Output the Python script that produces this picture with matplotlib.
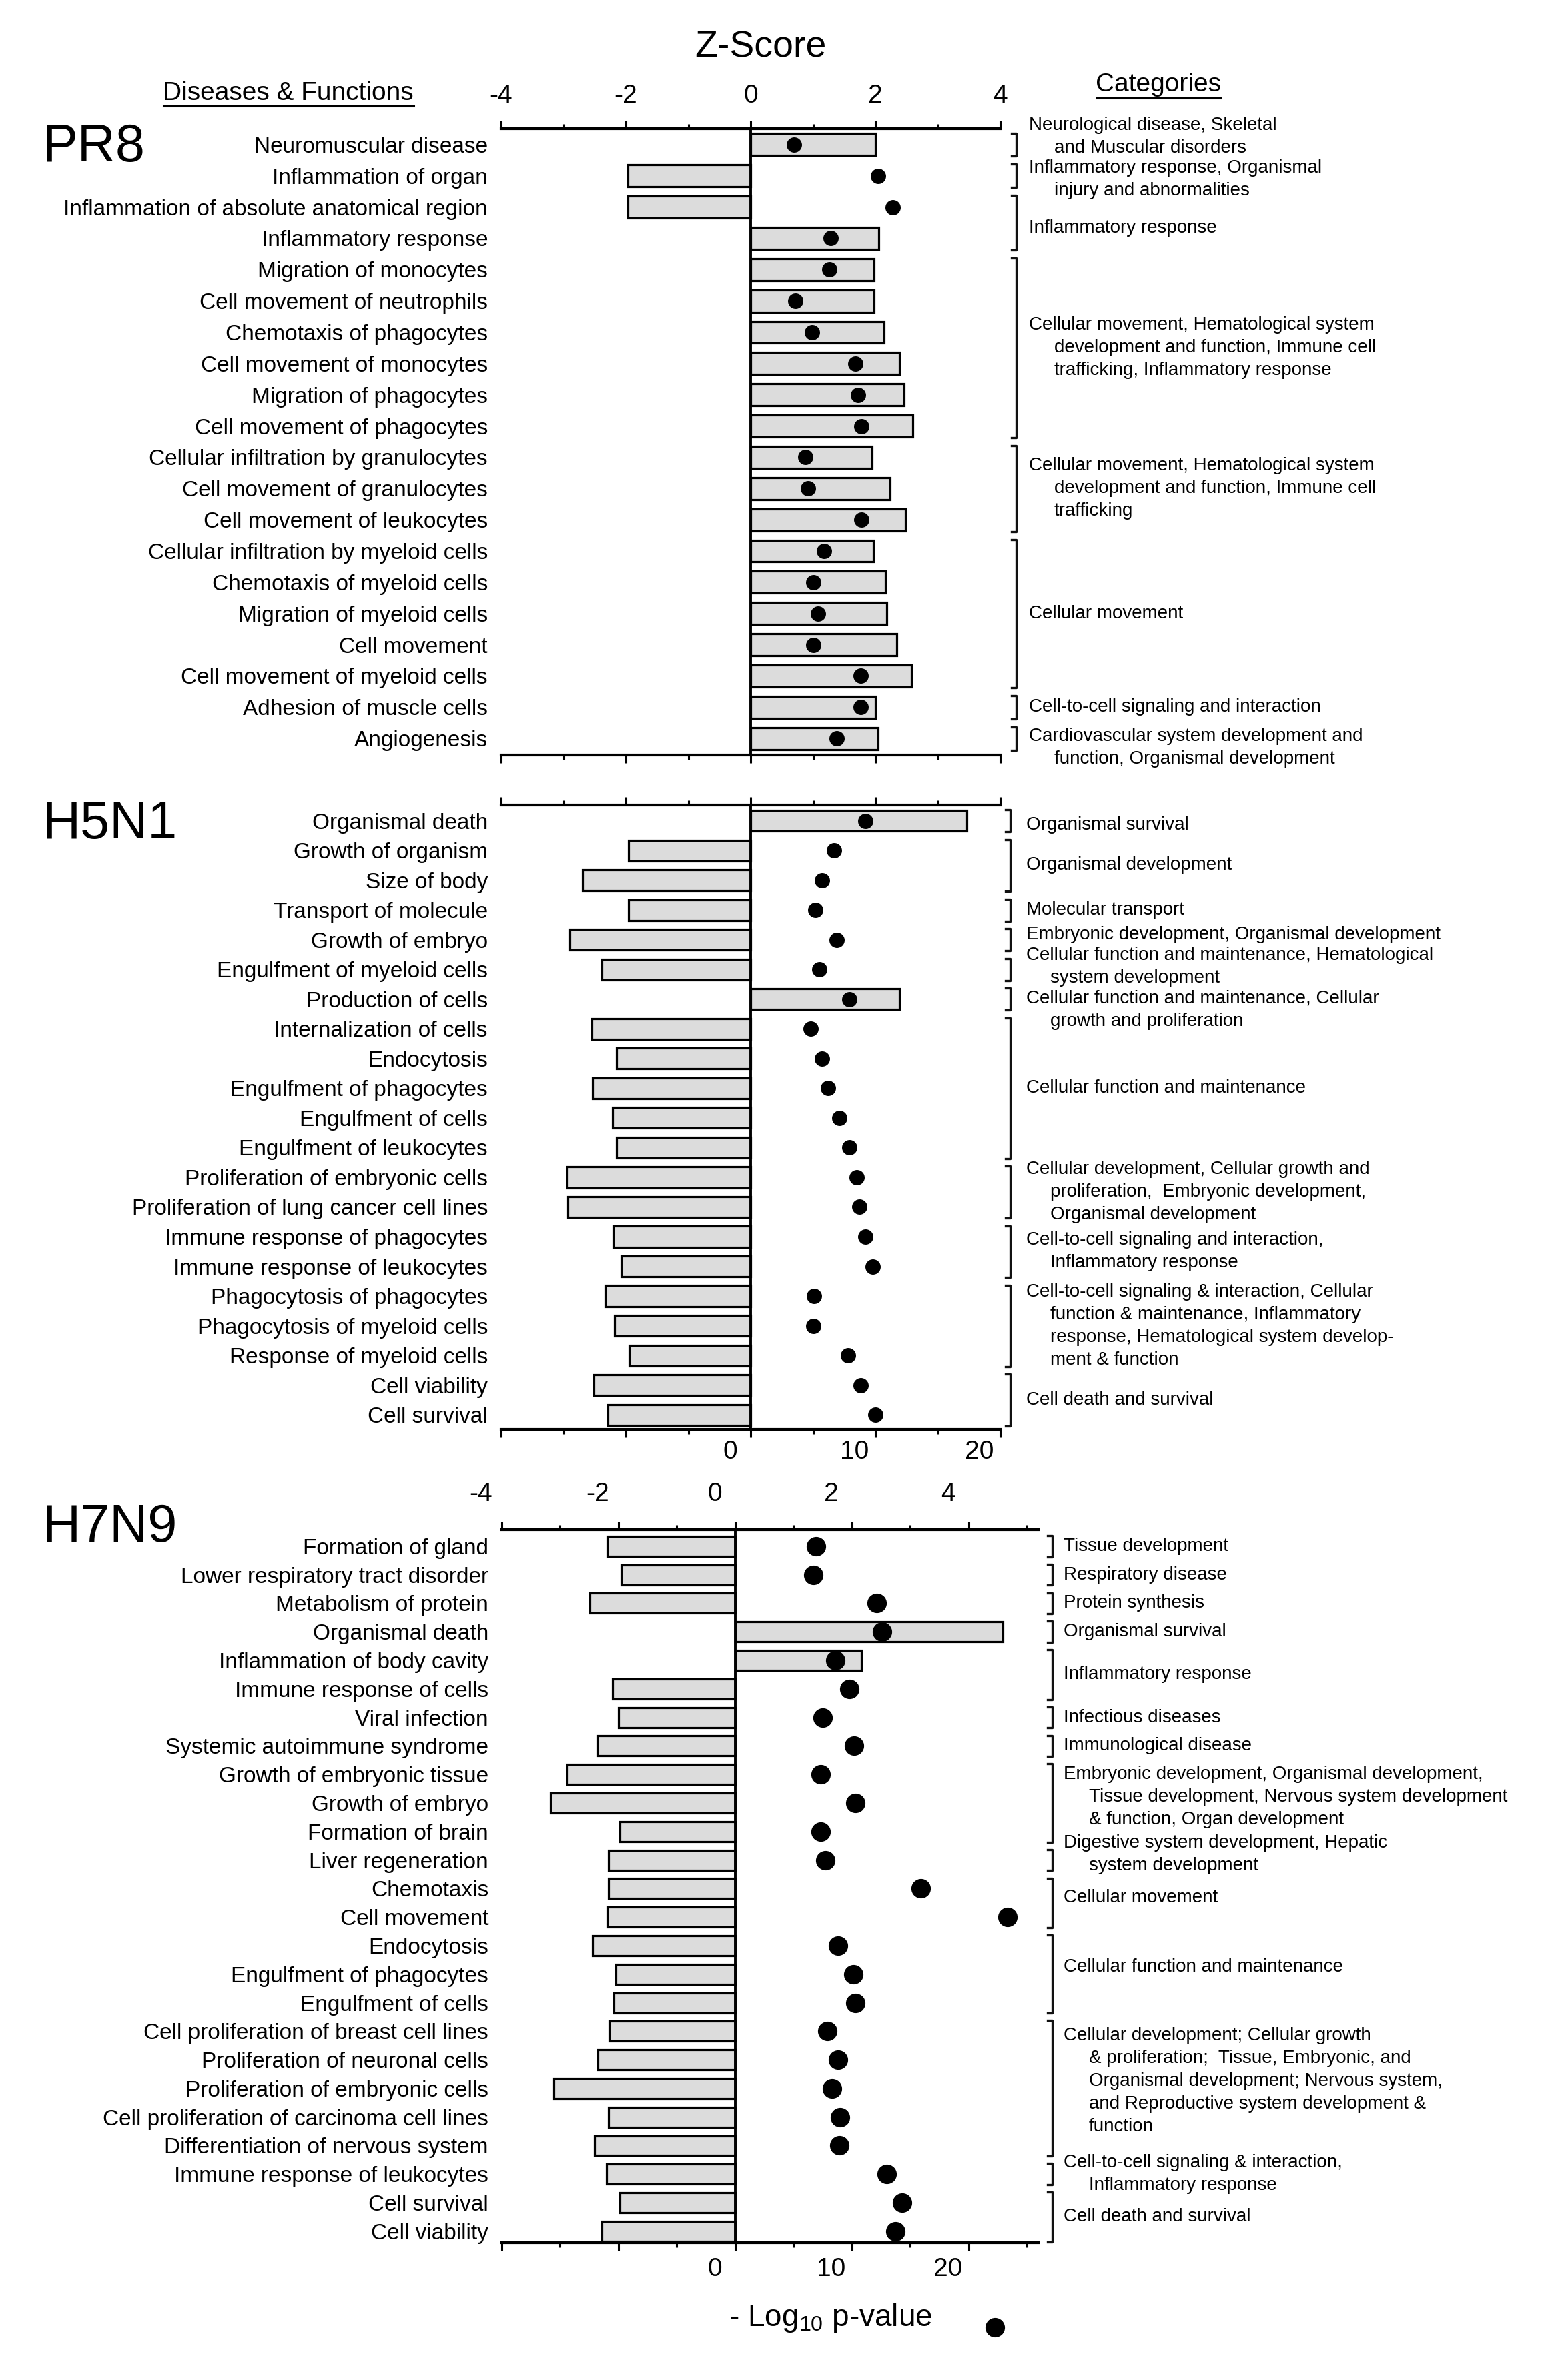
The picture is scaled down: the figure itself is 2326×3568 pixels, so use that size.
import numpy as np
import matplotlib
matplotlib.use("Agg")
import matplotlib.pyplot as plt
from matplotlib.lines import Line2D
from matplotlib.transforms import blended_transform_factory, ScaledTranslation

W, H, DPI = 2326, 3568, 100
plt.rcParams["font.family"] = ["Liberation Sans", "DejaVu Sans"]
plt.rcParams["mathtext.fontset"] = "custom"
plt.rcParams["mathtext.rm"] = "Liberation Sans"
plt.rcParams["mathtext.it"] = "Liberation Sans:italic"

""" data: z-scores (bars) and -log10 p-values (dots) """
pr8_labels = ["Neuromuscular disease", "Inflammation of organ",
              "Inflammation of absolute anatomical region", "Inflammatory response",
              "Migration of monocytes", "Cell movement of neutrophils",
              "Chemotaxis of phagocytes", "Cell movement of monocytes",
              "Migration of phagocytes", "Cell movement of phagocytes",
              "Cellular infiltration by granulocytes", "Cell movement of granulocytes",
              "Cell movement of leukocytes", "Cellular infiltration by myeloid cells",
              "Chemotaxis of myeloid cells", "Migration of myeloid cells",
              "Cell movement", "Cell movement of myeloid cells",
              "Adhesion of muscle cells", "Angiogenesis"]
pr8_z = [2.0, -1.97, -1.97, 2.05, 1.98, 1.98, 2.14, 2.39, 2.46, 2.6,
         1.95, 2.23, 2.48, 1.97, 2.16, 2.18, 2.34, 2.58, 2.0, 2.04]
pr8_p = [3.5, 10.2, 11.4, 6.4, 6.3, 3.6, 4.9, 8.4, 8.6, 8.9,
         4.4, 4.6, 8.9, 5.9, 5.0, 5.4, 5.0, 8.8, 8.8, 6.9]
pr8_groups = [
    (0, 0, ["Neurological disease, Skeletal", "and Muscular disorders"]),
    (1, 1, ["Inflammatory response, Organismal", "injury and abnormalities"]),
    (2, 3, ["Inflammatory response"]),
    (4, 9, ["Cellular movement, Hematological system",
            "development and function, Immune cell",
            "trafficking, Inflammatory response"]),
    (10, 12, ["Cellular movement, Hematological system",
              "development and function, Immune cell", "trafficking"]),
    (13, 17, ["Cellular movement"]),
    (18, 18, ["Cell-to-cell signaling and interaction"]),
    (19, 19, ["Cardiovascular system development and",
              "function, Organismal development"]),
]

h5_labels = ["Organismal death", "Growth of organism", "Size of body",
             "Transport of molecule", "Growth of embryo", "Engulfment of myeloid cells",
             "Production of cells", "Internalization of cells", "Endocytosis",
             "Engulfment of phagocytes", "Engulfment of cells", "Engulfment of leukocytes",
             "Proliferation of embryonic cells", "Proliferation of lung cancer cell lines",
             "Immune response of phagocytes", "Immune response of leukocytes",
             "Phagocytosis of phagocytes", "Phagocytosis of myeloid cells",
             "Response of myeloid cells", "Cell viability", "Cell survival"]
h5_z = [3.47, -1.96, -2.70, -1.96, -2.90, -2.39, 2.39, -2.55, -2.15, -2.54, -2.21,
        -2.15, -2.94, -2.93, -2.20, -2.07, -2.33, -2.18, -1.95, -2.51, -2.29]
h5_p = [9.2, 6.7, 5.7, 5.2, 6.9, 5.5, 7.9, 4.8, 5.7, 6.2, 7.1,
        7.9, 8.5, 8.7, 9.2, 9.8, 5.1, 5.0, 7.8, 8.8, 10.0]
h5_groups = [
    (0, 0, ["Organismal survival"]),
    (1, 2, ["Organismal development"]),
    (3, 3, ["Molecular transport"]),
    (4, 4, ["Embryonic development, Organismal development"]),
    (5, 5, ["Cellular function and maintenance, Hematological", "system development"]),
    (6, 6, ["Cellular function and maintenance, Cellular", "growth and proliferation"]),
    (7, 11, ["Cellular function and maintenance"]),
    (12, 13, ["Cellular development, Cellular growth and",
              "proliferation,  Embryonic development,", "Organismal development"]),
    (14, 15, ["Cell-to-cell signaling and interaction,", "Inflammatory response"]),
    (16, 18, ["Cell-to-cell signaling & interaction, Cellular",
              "function & maintenance, Inflammatory",
              "response, Hematological system develop-", "ment & function"]),
    (19, 20, ["Cell death and survival"]),
]

h7_labels = ["Formation of gland", "Lower respiratory tract disorder",
             "Metabolism of protein", "Organismal death", "Inflammation of body cavity",
             "Immune response of cells", "Viral infection", "Systemic autoimmune syndrome",
             "Growth of embryonic tissue", "Growth of embryo", "Formation of brain",
             "Liver regeneration", "Chemotaxis", "Cell movement", "Endocytosis",
             "Engulfment of phagocytes", "Engulfment of cells",
             "Cell proliferation of breast cell lines", "Proliferation of neuronal cells",
             "Proliferation of embryonic cells", "Cell proliferation of carcinoma cell lines",
             "Differentiation of nervous system", "Immune response of leukocytes",
             "Cell survival", "Cell viability"]
h7_z = [-2.19, -1.95, -2.49, 4.58, 2.16, -2.10, -2.0, -2.36, -2.88, -3.16, -1.98,
        -2.17, -2.17, -2.19, -2.45, -2.05, -2.08, -2.16, -2.35, -3.11, -2.17, -2.41,
        -2.21, -1.98, -2.28]
h7_p = [6.9, 6.7, 12.1, 12.6, 8.6, 9.8, 7.5, 10.2, 7.3, 10.3, 7.3, 7.7, 15.9, 23.3,
        8.8, 10.1, 10.3, 7.9, 8.8, 8.3, 9.0, 8.9, 13.0, 14.3, 13.7]
h7_groups = [
    (0, 0, ["Tissue development"]),
    (1, 1, ["Respiratory disease"]),
    (2, 2, ["Protein synthesis"]),
    (3, 3, ["Organismal survival"]),
    (4, 5, ["Inflammatory response"]),
    (6, 6, ["Infectious diseases"]),
    (7, 7, ["Immunological disease"]),
    (8, 10, ["Embryonic development, Organismal development,",
             "Tissue development, Nervous system development",
             "& function, Organ development"]),
    (11, 11, ["Digestive system development, Hepatic", "system development"]),
    (12, 13, ["Cellular movement"]),
    (14, 16, ["Cellular function and maintenance"]),
    (17, 21, ["Cellular development; Cellular growth",
              "& proliferation;  Tissue, Embryonic, and",
              "Organismal development; Nervous system,",
              "and Reproductive system development &", "function"]),
    (22, 22, ["Cell-to-cell signaling & interaction,", "Inflammatory response"]),
    (23, 24, ["Cell death and survival"]),
]

# small vertical nudges (pixels, + = down) of category texts, by group index
pr8_nudge = {0: -12, 1: 5, 2: 8, 7: 14}
h5_nudge = {0: 6, 3: -8, 4: -4, 5: 16}
h7_nudge = {7: -9, 8: -9, 9: -8, 10: -11, 11: -11}

fig = plt.figure(figsize=(W / DPI, H / DPI), dpi=DPI)


def fx(x):
    return x / W


def fy(y):
    return 1 - y / H


def pt(pixels):
    return pixels * 72 / DPI


def categories(ax, groups, nudge, brk_x, txt_x, indent):
    tr = blended_transform_factory(fig.transFigure, ax.transData)
    tick = fx(7)
    for k, (start, end, lines) in enumerate(groups):
        y0, y1 = start - 0.37, end + 0.37
        ax.plot([fx(brk_x) - tick, fx(brk_x), fx(brk_x), fx(brk_x) - tick], [y0, y0, y1, y1],
                transform=tr, color="#111111", lw=2.4, clip_on=False)
        yc = (start + end) / 2
        n = len(lines)
        for i, line in enumerate(lines):
            dx = 0 if i == 0 else indent
            dy = ((n - 1) / 2 - i) * 34 - nudge.get(k, 0)
            ax.annotate(line, xy=(fx(txt_x), yc), xycoords=tr, xytext=(pt(dx), pt(dy)),
                        textcoords="offset points", ha="left", va="center", fontsize=20)


def panel(box, xmax, ylim, labels, z, p, groups, nudge, cat_pos, top_lab, bot_lab,
          top_pad, bot_pad, shift, dot_size):
    left, top, right, bottom = box
    ax = fig.add_axes([fx(left), fy(bottom), (right - left) / W, (bottom - top) / H])
    rows = np.arange(len(labels))
    ax.barh(rows, z, height=0.7, color="#dcdcdc", edgecolor="black", linewidth=2.3, zorder=2)
    ax.axvline(0, color="black", lw=2.8, zorder=3)
    ax.set_xlim(-4, xmax)
    ax.set_ylim(*ylim)
    ax.set_yticks(rows, labels)
    ax.tick_params(axis="y", length=0, pad=pt(20), labelsize=24)

    axp = ax.twiny()
    axp.set_xlim(-20, xmax * 5)
    axp.plot(p, rows, "o", color="black", ms=dot_size, zorder=4)

    ax.xaxis.tick_top()
    axp.xaxis.tick_bottom()
    zt = np.arange(-4, int(xmax) + 1)
    major = zt[zt % 2 == 0]
    minor = zt[zt % 2 == 1]
    ax.set_xticks(major, [str(v) if top_lab else "" for v in major])
    ax.set_xticks(minor, minor=True)
    pmaj = major * 5
    axp.set_xticks(pmaj, [str(v) if (bot_lab and v >= 0) else "" for v in pmaj])
    axp.set_xticks(minor * 5, minor=True)
    for a, pad in ((ax, top_pad), (axp, bot_pad)):
        a.tick_params(axis="x", which="major", direction="out", length=8.6, width=2.2,
                      labelsize=28, pad=pad)
        a.tick_params(axis="x", which="minor", direction="out", length=5, width=2.2)
        for s in a.spines.values():
            s.set_visible(False)
    ax.spines["top"].set_visible(True)
    ax.spines["top"].set_linewidth(3)
    axp.spines["bottom"].set_visible(True)
    axp.spines["bottom"].set_linewidth(3)
    if shift:
        off = ScaledTranslation(-31 / DPI, 0, fig.dpi_scale_trans)
        for lab in ax.get_xticklabels() + axp.get_xticklabels():
            lab.set_transform(lab.get_transform() + off)
    categories(ax, groups, nudge, *cat_pos)
    return ax


panel((751, 193, 1499, 1132), 4, (19.53, -0.51), pr8_labels, pr8_z, pr8_p, pr8_groups,
      pr8_nudge, (1523, 1542, 38), True, False, 14, 3, False, 15.5)
panel((751, 1207, 1499, 2143), 4, (20.49, -0.53), h5_labels, h5_z, h5_p, h5_groups,
      h5_nudge, (1514, 1538, 36), False, True, 14, 3, True, 15.5)
panel((752, 2293, 1556, 3362), 5.19, (24.4, -0.58), h7_labels, h7_z, h7_p, h7_groups,
      h7_nudge, (1577, 1594, 38), True, True, 16.5, 7, True, 20)

# headers
fig.text(fx(1140), fy(72), "Z-Score", ha="center", va="center", fontsize=40)
fig.text(fx(432), fy(150), "Diseases & Functions", ha="center", va="baseline", fontsize=28)
fig.add_artist(Line2D([fx(245), fx(620)], [fy(159), fy(159)], color="black", lw=2.2))
fig.text(fx(1736), fy(137), "Categories", ha="center", va="baseline", fontsize=28)
fig.add_artist(Line2D([fx(1644), fx(1829)], [fy(147), fy(147)], color="black", lw=2.2))

for name, base in (("PR8", 242), ("H5N1", 1257), ("H7N9", 2311)):
    fig.text(fx(64), fy(base), name, ha="left", va="baseline", fontsize=57)

# dot legend
fig.text(fx(1245), fy(3475), r"- Log$_{\mathrm{10}}$ p-value", ha="center", va="center", fontsize=33)
fig.add_artist(Line2D([fx(1491)], [fy(3489)], marker="o", ms=20, color="black", linestyle="none"))

fig.savefig("out.png", dpi=DPI, facecolor="white")
